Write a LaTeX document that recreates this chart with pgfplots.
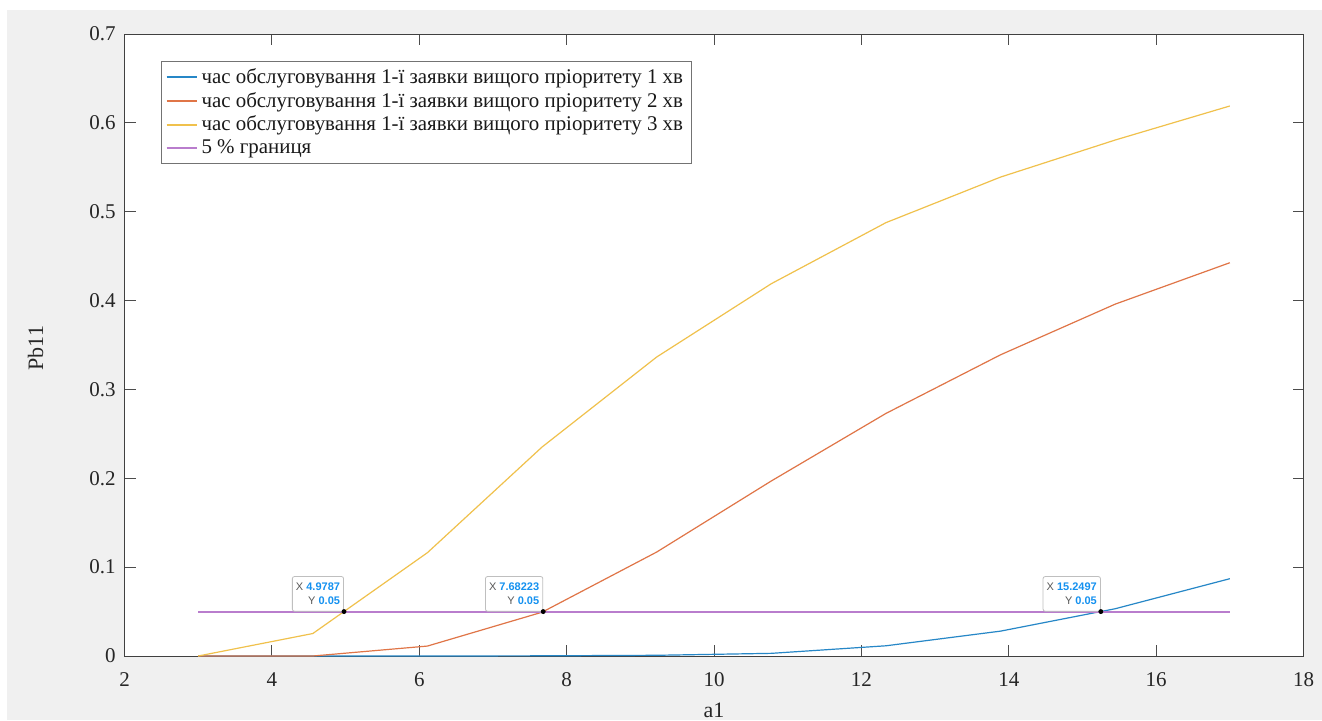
\documentclass[border=0pt]{standalone}
\usepackage{fontspec}
\setmainfont{Liberation Serif}
\setsansfont{Liberation Sans}
\usepackage{pgfplots}
\pgfplotsset{compat=1.18}
\definecolor{mblue}{rgb}{0,0.447,0.741}
\definecolor{morange}{rgb}{0.85,0.325,0.098}
\definecolor{myellow}{rgb}{0.929,0.694,0.125}
\definecolor{lpurple}{RGB}{185,125,205}
\definecolor{bggray}{HTML}{F0F0F0}
\definecolor{tipblue}{RGB}{20,145,240}
\begin{document}
\begin{tikzpicture}[x=1pt,y=1pt]
\useasboundingbox (0,0) rectangle (661,360);
\fill[white] (0,0) rectangle (661,360);
\fill[bggray] (3.5,0) rectangle (661,355);
\begin{axis}[
  at={(62.25pt,32pt)}, anchor=south west,
  scale only axis, width=589.5pt, height=311pt,
  xmin=2, xmax=18, ymin=0, ymax=0.7,
  xtick={2,4,...,18},
  ytick={0,0.1,...,0.7},
  yticklabels={0,0.1,0.2,0.3,0.4,0.5,0.6,0.7},
  axis background/.style={fill=white},
  axis line style={black!75, line width=0.5pt},
  tick style={black!70, line width=0.5pt},
  major tick length=5.5pt,
  tick align=inside,
  /pgf/number format/assume math mode=true,
  ticklabel style={font=\rmfamily\fontsize{10.5}{12}\selectfont, text=black!85},
  xticklabel style={anchor=base, yshift=-15pt},
  yticklabel style={anchor=east, inner sep=0pt, xshift=-4.25pt},
  xlabel={a1}, ylabel={Pb11},
  label style={font=\rmfamily\fontsize{11}{13}\selectfont, text=black!85},
  xlabel style={at={(axis description cs:0.5,0)}, anchor=base, yshift=-30.5pt},
  ylabel style={at={(axis description cs:-0.0691,0.495)}, anchor=base},
  legend style={at={(axis description cs:0.031,0.9566)}, anchor=north west,
    draw=black!55, line width=0.5pt, font=\rmfamily\fontsize{10.45}{12.4}\selectfont, text=black!90,
    row sep=-1.1pt, inner xsep=2pt, inner ysep=1.5pt},
  legend cell align=left,
  legend image code/.code={\draw[#1, line width=1pt] (0pt,0pt) -- (15pt,0pt);},
]
\addplot[mblue!85!white, line width=0.6pt] coordinates {
(3,0) (4.5556,0) (6.1111,0) (7.6667,0.0002) (9.2222,0.0008) (10.7778,0.003)
(12.3333,0.0115) (13.8889,0.028) (15.4444,0.0532) (17,0.087)};
\addlegendentry{час обслуговування 1-ї заявки вищого пріоритету 1 хв}
\addplot[morange!80!white, line width=0.6pt] coordinates {
(3,0) (4.5556,0) (6.1111,0.0112) (7.6667,0.0493) (9.2222,0.117) (10.7778,0.197)
(12.3333,0.273) (13.8889,0.339) (15.4444,0.396) (17,0.4426)};
\addlegendentry{час обслуговування 1-ї заявки вищого пріоритету 2 хв}
\addplot[myellow!80!white, line width=0.6pt] coordinates {
(3,0) (4.5556,0.0253) (6.1111,0.1163) (7.6667,0.2352) (9.2222,0.3365) (10.7778,0.419)
(12.3333,0.4877) (13.8889,0.539) (15.4444,0.5807) (17,0.619)};
\addlegendentry{час обслуговування 1-ї заявки вищого пріоритету 3 хв}
\addplot[draw=lpurple, color=lpurple, line width=1pt] coordinates {(3,0.05) (17,0.05)};
\addlegendentry{5 \% границя}
\addplot[only marks, mark=*, mark size=1pt, black, forget plot] coordinates {
(4.9787,0.05) (7.68223,0.05) (15.2497,0.05)};
\begin{scope}[every node/.style={anchor=south east, draw=black!25, fill=white,
  rounded corners=1pt, inner xsep=1.8pt, inner ysep=3.2pt, align=right,
  font=\sffamily\fontsize{5.5}{7}\selectfont, text=black!65}]
\node at (axis cs:4.9787,0.05) {X \textcolor{tipblue}{\textbf{4.9787}}\\Y \textcolor{tipblue}{\textbf{0.05}}};
\node at (axis cs:7.68223,0.05) {X \textcolor{tipblue}{\textbf{7.68223}}\\Y \textcolor{tipblue}{\textbf{0.05}}};
\node at (axis cs:15.2497,0.05) {X \textcolor{tipblue}{\textbf{15.2497}}\\Y \textcolor{tipblue}{\textbf{0.05}}};
\end{scope}
\end{axis}
\end{tikzpicture}
\end{document}
